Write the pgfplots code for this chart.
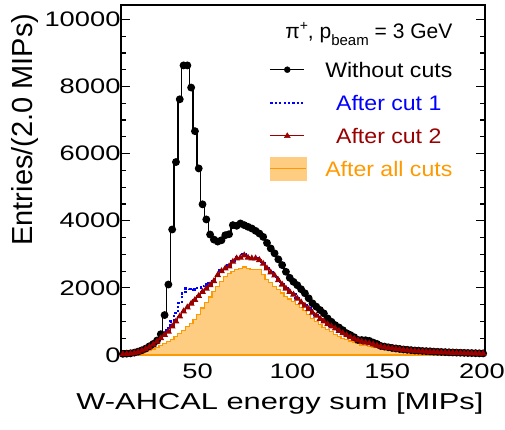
\documentclass[border=0pt]{standalone}
\usepackage{fontspec}
\setmainfont{Liberation Sans}
\newfontfamily\tickfont{Liberation Sans}[FakeStretch=1.3]
\newfontfamily\labfont{Liberation Sans}[FakeStretch=1.34]
\newfontfamily\legfont{Liberation Sans}[FakeStretch=1.1]
\usepackage{pgfplots}
\usepackage{pgfplotstable}
\pgfplotsset{compat=1.18}
\definecolor{cblue}{RGB}{0,0,255}
\definecolor{cred}{RGB}{153,0,0}
\definecolor{corange}{RGB}{255,153,0}
\definecolor{cfill}{RGB}{255,205,130}

\pgfplotstableread{
x all c1 c2 fin
9 35 30 25 12
11 40 35 30 15
13 50 45 40 20
15 70 65 60 30
17 100 95 90 45
19 140 140 130 70
21 190 190 180 100
23 260 250 240 140
25 330 330 310 180
27 430 420 400 230
29 620 530 500 280
31 1190 650 600 340
33 2100 800 700 400
35 3740 1000 850 460
37 5750 1250 1000 540
39 7620 1550 1150 640
41 8630 1830 1300 740
43 8630 1980 1420 840
45 7970 1970 1530 950
47 6670 1950 1640 1060
49 5560 1990 1760 1200
51 4490 2050 1880 1400
53 4040 2100 1980 1560
55 3590 2150 2080 1730
57 3440 2250 2200 1900
59 3380 2400 2380 2050
61 3420 2520 2500 2200
63 3570 2600 2580 2330
65 3600 2680 2640 2420
67 3870 2800 2780 2480
69 3850 2920 2880 2540
71 3920 2930 2900 2570
73 3870 3000 2970 2620
75 3820 2930 2900 2570
77 3770 2900 2880 2550
79 3700 2900 2880 2540
81 3620 2850 2830 2540
83 3520 2740 2720 2400
85 3340 2600 2580 2250
87 3175 2480 2460 2150
89 3030 2390 2370 2050
91 2850 2250 2230 1950
93 2680 2120 2100 1850
95 2480 2000 1980 1750
97 2300 1900 1880 1670
99 2180 1820 1800 1600
101 2080 1700 1680 1500
103 1960 1590 1570 1420
105 1840 1490 1470 1320
107 1690 1390 1370 1200
109 1540 1280 1260 1080
111 1440 1190 1170 990
113 1340 1100 1080 900
115 1240 1020 1000 830
117 1090 940 920 760
119 990 870 850 690
121 890 810 790 620
123 820 740 720 560
125 740 670 650 500
127 650 610 590 460
129 595 550 530 420
131 530 505 490 390
133 450 455 440 340
135 445 415 400 300
137 440 385 370 280
139 420 360 350 260
141 370 330 320 240
143 330 290 280 220
145 270 260 250 200
147 250 240 230 180
149 230 220 210 165
151 210 200 195 150
153 195 185 180 140
155 180 170 165 130
157 165 155 150 120
159 155 145 140 112
161 145 135 130 105
163 135 125 120 98
165 130 118 115 92
167 120 110 108 86
169 115 104 100 80
171 110 98 95 75
173 100 92 90 70
175 95 88 85 66
177 90 82 80 62
179 85 78 75 58
181 80 73 70 55
183 75 69 66 52
185 72 65 62 49
187 68 61 58 46
189 64 58 55 43
191 60 55 52 40
193 57 52 49 38
195 54 49 46 36
197 50 47 44 34
199 48 45 42 32
}\data

\newcommand{\lstrut}{\rule[-4bp]{0pt}{23bp}}

\begin{document}
\begin{tikzpicture}
\path[use as bounding box] (-121bp,-75bp) rectangle (384bp,355bp);
\begin{axis}[
  at={(0,0)}, anchor=south west,
  scale only axis, width=364bp, height=350bp,
  xmin=8, xmax=200, ymin=0, ymax=10430,
  xtick={50,100,150,200},
  ytick={0,2000,4000,6000,8000,10000},
  minor xtick={10,20,30,40,60,70,80,90,110,120,130,140,160,170,180,190},
  minor ytick={500,1000,1500,2500,3000,3500,4500,5000,5500,6500,7000,7500,8500,9000,9500,10000},
  xtick pos=left,
  tick align=inside,
  major tick length=9bp, minor tick length=5bp,
  axis line style={line width=1.2bp},
  every tick/.style={black, line width=1.2bp},
  scaled ticks=false,
  /pgf/number format/1000 sep={},
  /pgf/number format/assume math mode=true,
  ticklabel style={font=\tickfont\fontsize{21bp}{24bp}\selectfont},
  xticklabel style={yshift=-5bp, xshift=-3bp},
  yticklabel style={xshift=3bp},
  legend style={at={(rel axis cs:0.4066,0.96)}, anchor=north west,
    draw=none, fill=none, inner sep=0pt, row sep=10bp,
    nodes={inner sep=0pt, text depth=},
    cells={anchor=center},
    font=\legfont\fontsize{21bp}{24bp}\selectfont},
]
\addlegendimage{empty legend}
\addlegendentry{\makebox[127bp][r]{\normalfont\fontsize{21bp}{24bp}\selectfont π\raisebox{8bp}{\fontsize{14bp}{14bp}\selectfont +}, p\raisebox{-7bp}{\fontsize{15bp}{15bp}\selectfont beam} = 3 GeV}\rule[-10bp]{0pt}{29bp}}
\addlegendimage{legend image code/.code={\draw[black, line width=1.2bp] (0bp,0bp) -- (34bp,0bp); \fill[black] (17bp,0bp) circle (3bp); \path[draw=none, fill=none] (0bp,0bp) -- (55bp,0bp);}}
\addlegendentry{\makebox[127bp]{Without cuts}\lstrut}
\addlegendimage{legend image code/.code={\draw[cblue, line width=2.2bp, dash pattern=on 2.2bp off 2.2bp] (0bp,0bp) -- (34bp,0bp); \path[draw=none, fill=none] (0bp,0bp) -- (55bp,0bp);}}
\addlegendentry{\makebox[127bp]{\textcolor{cblue}{After cut 1}}\lstrut}
\addlegendimage{legend image code/.code={\draw[cred, line width=1.2bp] (0bp,0bp) -- (34bp,0bp); \fill[cred] (17bp,3bp) -- (14bp,-2bp) -- (20bp,-2bp) -- cycle; \path[draw=none, fill=none] (0bp,0bp) -- (55bp,0bp);}}
\addlegendentry{\makebox[127bp]{\textcolor{cred}{After cut 2}}\lstrut}
\addlegendimage{legend image code/.code={\fill[cfill] (0bp,-11.5bp) rectangle (36bp,11.5bp); \draw[corange, line width=1.2bp] (0bp,0bp) -- (36bp,0bp); \path[draw=none, fill=none] (0bp,0bp) -- (55bp,0bp);}}
\addlegendentry{\makebox[127bp]{\textcolor{corange}{After all cuts}}\lstrut}

\addplot[const plot mark mid, fill=cfill, draw=corange, line width=1.2bp, forget plot] table[x=x,y=fin]{\data} \closedcycle;
\addplot[const plot mark mid, black, line width=1.4bp, mark=*, mark size=3.2bp, forget plot] table[x=x,y=all]{\data};
\addplot[const plot mark mid, cblue, line width=2.2bp, dash pattern=on 2.2bp off 2.2bp, forget plot] table[x=x,y=c1]{\data};
\addplot[const plot mark mid, cred, line width=1.2bp, mark=triangle*, mark size=2.8bp, mark options={solid}, forget plot] table[x=x,y=c2]{\data};
\end{axis}
\node[rotate=90, anchor=base east, font=\fontsize{29bp}{30bp}\selectfont] at (-88bp,345bp) {Entries/(2.0 MIPs)};
\node[anchor=base east, font=\labfont\fontsize{23bp}{26bp}\selectfont] at (366bp,-54bp) {W-AHCAL energy sum [MIPs]};
\end{tikzpicture}
\end{document}
